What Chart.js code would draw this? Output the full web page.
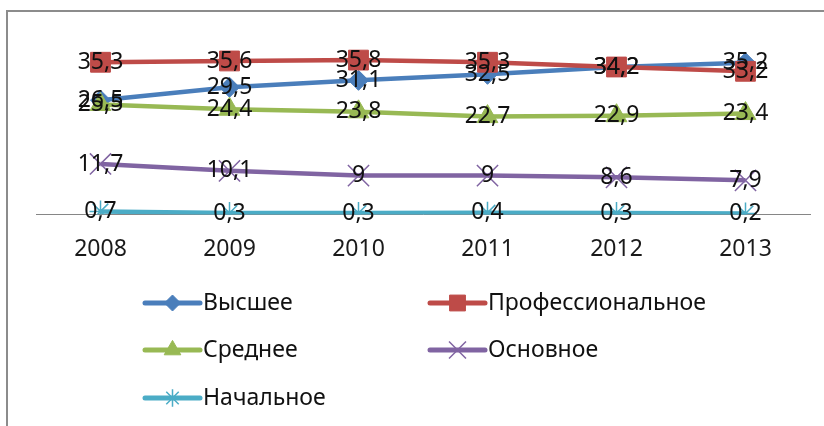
<!DOCTYPE html>
<html>
<head>
<meta charset="UTF-8">
<title>Образование</title>
<script src="https://cdn.jsdelivr.net/npm/chart.js@4/dist/chart.umd.min.js"></script>
<style>
	body { margin: 0; background: #fff; }
	#wrap { position: relative; width: 824px; height: 426px; overflow: hidden; }
	#frame { position: absolute; left: 6px; top: 10px; width: 900px; height: 500px;
		border-left: 2px solid #8c8c8c; border-top: 2px solid #8c8c8c; }
	#myChart { position: absolute; left: 0; top: 0; }
</style>
</head>
<body>
<div id="wrap">
	<div id="frame"></div>
	<canvas id="myChart" width="824" height="426"></canvas>
</div>

<script>
	// данные графика
	let years = ['2008', '2009', '2010', '2011', '2012', '2013'];
	let seriesNames = ['Высшее', 'Профессиональное', 'Среднее', 'Основное', 'Начальное'];
	let vysshee = [26.5, 29.5, 31.1, 32.5, 34.2, 35.2];
	let professionalnoe = [35.3, 35.6, 35.8, 35.3, 34.2, 33.2];
	let srednee = [25.5, 24.4, 23.8, 22.7, 22.9, 23.4];
	let osnovnoe = [11.7, 10.1, 9, 9, 8.6, 7.9];
	let nachalnoe = [0.7, 0.3, 0.3, 0.4, 0.3, 0.2];

	let FONT = '"Noto Sans", sans-serif';

	function makeSet(i, data, color, style, radius, pbw) {
		return {
			label: seriesNames[i],
			data: data,
			borderColor: color,
			backgroundColor: color,
			borderWidth: 4.5,
			pointStyle: style,
			pointRadius: radius,
			pointHoverRadius: radius,
			pointBorderWidth: pbw,
			pointBackgroundColor: color,
			pointBorderColor: color,
			tension: 0,
			order: -i // later series drawn on top, like in Excel
		};
	}

	let datasets = [
		makeSet(0, vysshee, '#4a7ebb', 'rectRot', 10, 1),
		makeSet(1, professionalnoe, '#be4b48', 'rect', 14, 1),
		makeSet(2, srednee, '#98b954', 'triangle', 12, 1),
		makeSet(3, osnovnoe, '#8064a2', 'crossRot', 15, 1.5),
		makeSet(4, nachalnoe, '#4bacc6', 'star', 11, 1.5)
	];

	// подписи значений по центру точек
	let valueLabels = {
		id: 'valueLabels',
		afterDatasetsDraw(chart) {
			let ctx = chart.ctx;
			ctx.save();
			ctx.font = '23px ' + FONT;
			ctx.fillStyle = '#111';
			ctx.textAlign = 'center';
			ctx.textBaseline = 'middle';
			chart.data.datasets.forEach(function(ds, i) {
				chart.getDatasetMeta(i).data.forEach(function(pt, j) {
					ctx.fillText(String(ds.data[j]).replace('.', ','), pt.x, pt.y);
				});
			});
			ctx.restore();
		}
	};

	// легенда в две колонки, как в Excel
	let gridLegend = {
		id: 'gridLegend',
		afterDraw(chart) {
			let ctx = chart.ctx;
			let colX = [145, 430];
			let rowY = [303, 350, 398];
			ctx.save();
			chart.data.datasets.forEach(function(ds, i) {
				let x = colX[i % 2];
				let y = rowY[Math.floor(i / 2)];
				ctx.strokeStyle = ds.borderColor;
				ctx.fillStyle = ds.backgroundColor;
				ctx.lineWidth = 5;
				ctx.lineCap = 'round';
				ctx.beginPath();
				ctx.moveTo(x, y);
				ctx.lineTo(x + 55, y);
				ctx.stroke();
				ctx.lineCap = 'butt';
				ctx.lineWidth = ds.pointBorderWidth;
				Chart.helpers.drawPoint(ctx, {
					pointStyle: ds.pointStyle,
					radius: ds.pointRadius * 0.8,
					rotation: 0,
					borderWidth: ds.pointBorderWidth
				}, x + 27.5, y);
				ctx.font = '23px ' + FONT;
				ctx.fillStyle = '#111';
				ctx.textAlign = 'left';
				ctx.textBaseline = 'middle';
				ctx.fillText(ds.label, x + 58, y);
			});
			ctx.restore();
		}
	};

	new Chart('myChart', {
		type: 'line',
		data: {
			labels: years,
			datasets: datasets
		},
		options: {
			responsive: false,
			animation: false,
			layout: {
				autoPadding: false,
				padding: { left: 36, right: 14, top: 42, bottom: 150 }
			},
			plugins: {
				legend: { display: false },
				tooltip: { enabled: false }
			},
			scales: {
				x: {
					offset: true,
					grid: { display: false },
					border: { display: true, color: '#868686', width: 1 },
					ticks: {
						padding: 13,
						color: '#1a1a1a',
						font: { family: FONT, size: 23 }
					}
				},
				y: {
					display: false,
					min: 0,
					max: 40
				}
			}
		},
		plugins: [valueLabels, gridLegend]
	});
</script>
</body>
</html>
